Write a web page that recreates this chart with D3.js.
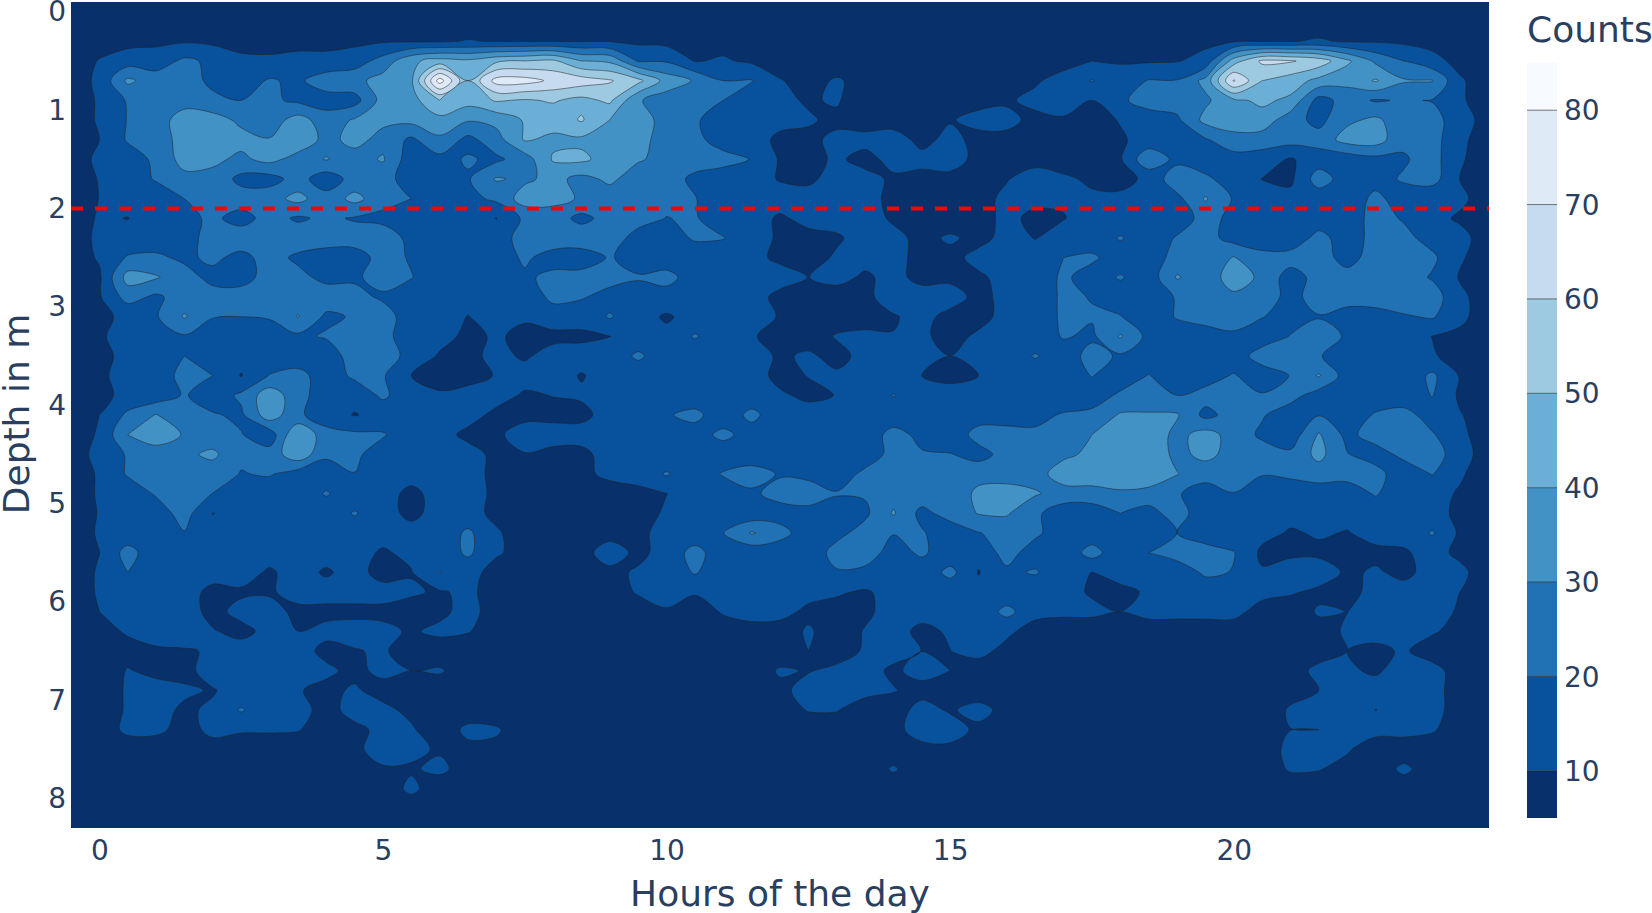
<!DOCTYPE html>
<html>
<head>
<meta charset="utf-8">
<script src="https://cdn.jsdelivr.net/npm/d3@7"></script>
<style>
  body { margin: 0; background: #fff; }
  text { font-family: "DejaVu Sans", sans-serif; fill: #2a3f5f; }
</style>
</head>
<body>
<div id="chart"></div>
<script>
const width = 1652;
const height = 913;
const plot = { left: 71, right: 1489, top: 2, bottom: 828 };

const xTicks = [0, 5, 10, 15, 20];
const yTicks = [0, 1, 2, 3, 4, 5, 6, 7, 8];
const levels = [10, 20, 30, 40, 50, 60, 70, 80];
const bandColours = ["#08306b", "#08519c", "#2171b5", "#4292c6", "#6baed6", "#9ecae1", "#c6dbef", "#deebf7", "#f7fbff"];
const colourbarTicks = [10, 20, 30, 40, 50, 60, 70, 80];
const markerDepth = 2;

// hours -0.5 to 24.5 every 0.5
const hours = [-0.5, 0, 0.5, 1, 1.5, 2, 2.5, 3, 3.5, 4, 4.5, 5, 5.5, 6, 6.5, 7, 7.5, 8, 8.5, 9, 9.5, 10, 10.5, 11, 11.5, 12, 12.5, 13, 13.5, 14, 14.5, 15, 15.5, 16, 16.5, 17, 17.5, 18, 18.5, 19, 19.5, 20, 20.5, 21, 21.5, 22, 22.5, 23, 23.5, 24, 24.5];
// depths -0.1 to 8.3 every 0.2
const depths = [-0.1, 0.1, 0.3, 0.5, 0.7, 0.9, 1.1, 1.3, 1.5, 1.7, 1.9, 2.1, 2.3, 2.5, 2.7, 2.9, 3.1, 3.3, 3.5, 3.7, 3.9, 4.1, 4.3, 4.5, 4.7, 4.9, 5.1, 5.3, 5.5, 5.7, 5.9, 6.1, 6.3, 6.5, 6.7, 6.9, 7.1, 7.3, 7.5, 7.7, 7.9, 8.1, 8.3];

// one row per depth, one value per hour
const counts = [
  [5,5,5,5,5,5,5,5,5,5, 5,5,5,5,5,5,5,5,5,5, 5,5,5,5,5,5,5,5,5,5, 5,5,5,5,5,5,5,5,5,5, 5,5,5,5,5,5,5,5,5,5,5],
  [5,5,5,5,5,5,5,5,5,5, 5,5,5,5,5,5,5,5,5,5, 5,5,5,5,5,5,5,5,5,5, 5,5,5,5,5,5,5,5,5,5, 5,5,5,5,5,5,5,5,5,5,5],
  [5,6,7,8,9,8,7,8,8,8, 8,9,9,9,10.5,9.5,9.5,9.5,9.5,9.5, 8,7,7,7,6,5,5,5,5,5, 5,5,5,5,5,6,7,7,7,7, 8,9,9.5,9.5,11,9,9,8,7,6,5],
  [5,10.5,15,15,22,18,12,11,12,12, 15,24,38,44,42,48,50,52,40,38, 19,19,9.5,11,8.5,6,5,5,5,5, 5,5,5,5,6,7,10,9,9,9.5, 13,45,62,61,56,42,28,20,13,7,5],
  [5,12,32,25,26,17,15,21,18,26, 27,34,38,85,50,74,74,68,65,61, 53,36,29,20,20.5,10.5,7,11,7,6, 5,5,5,6,9,13,20.5,15,20.5,20.5, 33,71,50,45,37,33,41,31,30.5,11,5],
  [5,11,21,25,25,23,20,22,18,15, 16,34,36,50,44,51,49,51,47,52, 31,25,21,20,14,11,9.5,10.5,7,6, 5,5,8,9,12,14,10,18,25,25, 28,38,42,38,16,24,19,21,19.5,11,6],
  [5,11,20.5,24,36,34,28,25,34,25, 31,32,33,37,31,33,41,44,51,40, 35,26,21,16,14,12,10.5,9,7,7, 7,9.5,12,12,8,9,7,10.5,14,18, 33,36,36,24,17,28,32,24,24,14,6],
  [5,10,21,22,36,30.5,33,30.5,37,27, 33,27,18,28,17,26,41,38,38,36, 34,25,23,15,13,8.5,9,11,12,13, 8,12,8,8,8,8,7,9,13,14, 19,26,25,24,24,34,35,22,24,12,5],
  [5,12,15,22,34,32,28,33,26,30.5, 26,31,14,17,21,18,25,41,42,36, 31,27,24,24,19.5,9,8,11,8,12, 12,13,8,7,7,7,7,9,28,17, 14,16,15,9,15,14,17,19,24,11,5],
  [5,10.5,14,21,27,27,17,16,24,14, 24,24,15,15,19,31,28,33,27,32, 25,24,18,14,13,9.5,9,12,12,9, 8,8,9,9.5,14,11,9,7,12,27, 22,15,9.8,8,25,15,17,21,24,9.5,5],
  [5,10.2,13,13,20,27,25,26,33,24, 33,24,20,15,17,22,35,33,29,25, 24,22,20.5,13,13,13,12,12,12,8.5, 7,6,7,12,12,10.5,11,12,13,17, 31,19,14,13,14,15,22,16,12,12,5],
  [5,11,9.8,13,17,22,16,24,18.5,22, 19,17,13,13,14,9.8,22,25,17,24, 23,19.8,21,14,13,9,12,13,13,9, 7,6,7,12,8,9.8,12,12,14,14, 24,17,13,13,13,14,24,19,13,8.5,5],
  [5,12,13,14,16,24,26,27,26,25, 25,26,17,12,13,14,25,27,27,24, 17,16,21,20.5,13,9,8,9,13,12, 8,11,8,12,9.8,12,13,21,13,21, 24,16,13,12,24,14,24,23,16,13,5],
  [5,11,21,22,18,22,17,24,18,15, 15,24,19,13,13,13,22,15,14,21, 15,13,15,13,12,8.5,7,11,12,12, 8,8,12,13,13,20,22,14,14,24, 25,30.5,24,25,26,15,26,27,22,11,5],
  [5,8.5,34,31,24,17,15,25,23,17, 18,25,20.5,13,13,13,18,23,24,24, 21,24,14,13,12,13,9.9,12,9,12, 8,8.5,9,12,13,22,15,21,14,31, 24,35,28,15,24,25,25,25,19,9,5],
  [5,9,24,18,25,24,26,26,26,26, 24,18,13,13,12,12,12,23,21,16, 15,15,13,13,13,8,7,7,8.5,13, 13,13,8,12,13,22,19.5,14,13,21, 26,28,25,17,24,25,26,26,25,12,5],
  [5,8,12,19,31,20.5,20,20.5,30.5,18, 21,26,13,13,9.8,13,11,14,13,21, 13,9,13,13,13,9.5,7,7,8,9.5, 12,8,8,12,13,22,21,20.5,12,21, 25,25,20.5,15,19.5,15,15,19,21,12,5],
  [5,9,13,14,19,14,14,17,18,21, 24,24,13,13,8,11,8,8,8.5,9.9, 13,12,21,13,10.5,8,7,10.5,11,10.2, 11,8,11,12,13,21,18,31,17,13, 14,18,13,20.5,24,19,13,13,9.9,8,5],
  [5,8,12,13,20,14,13,13,13,14, 25,26,16,9,8,12,9,13,13,13, 22,13,13,13,13,9,11,8,12,12, 12,10,13,13,21,14,24,18.5,13,13, 14,13,26,24,21,13,13,13,10.5,8,5],
  [5,9,12,13,24,20,9.5,20.5,24,14, 22,21,10,7,7,10.5,13,13,9.5,13, 13,13,13,13,13,8,10.2,11,13,13, 10,8,10,13,13,13,20.5,13,20.5,13, 15,21,13,20.5,31,15,13,13,22,9,5],
  [5,7,13,14,21,14,22,36,24,14, 13,22,13,11,13,13,9,10.2,11,13, 13,13,13,13,13,11,8.5,10.2,13,20.5, 13,13,13,13,13,13,14,22,24,20, 24,25,21,24,15,13,14,13,20.5,8,5],
  [5,10,22,30.5,22,21,18,36,22,14, 9.5,13,13,13,13,8,7,8,8,13, 13,19,23,13,23,13,13,13,13,13, 13,14,15,15,17,21,23,31,31,31, 17,24,21,14,19.5,14,21,24,15,10.5,5],
  [5,11,30,37,29,24,20.5,14,40,24, 22,21,13,13,8,8,15,13,13,13, 13,13,15,23,15,13,13,13,13,24, 17,13,24,24,22,25,30,36,37,27, 34,26,18,14,31,17,25,25,21,12,5],
  [5,13,21,24,28,32,22,24,37,22, 22,15,13,13,13,8,9.5,8,8,13, 13,13,13,13,13,13,13,13,13,24, 21,20.5,16,24,28,28,32,39,38,27, 33,26,25,22,33,20.5,15,23,25,14,5],
  [5,11,21,24,24,25,19.5,21,15,14, 19.8,13,13,13,13,8,8,7,9,11, 13,21,13,21,25,19,17,13,23,25, 26,26,27,28,26,35,36,38,38,30.5, 24,23,20.5,22,25,24,24,13,20.5,11,5],
  [5,11,14,21,25,19.8,13,13,13,21, 13,13,8,13,13,8.5,7,7,7,8, 8,9.9,13,13,18,24,26,21,21,26, 26,24,32,32,31,26,26,28,26,21, 15,19.8,15,14,14,14,21,13,13,9,5],
  [5,10.5,13,15,24,9.8,13,13,13,13, 21,13,8,13,13,8,6,6,6,8, 7,11,13,13,13,15,16,13,18,31, 17,24,30.5,31,22,14,14,20,16,25, 13,13,13,13,13,13,13,13,13,8,5],
  [5,11,13,13,19.5,13,13,13,13,13, 13,13,13,13,22,11,6,6,6,7, 8,13,13,19.8,31,24,14,17,24,20.5, 21,14,19.5,24,22,14,14,13,13,20, 15,13,13,9,11,9.5,13,13,21,8,5],
  [5,9.9,24,13,13,13,13,13,13,13, 13,9,12,13,22,11,7,6,7,14, 8,13,24,13,13,13,13,24,26,15, 22,13,13,24,15,13,24,13,20,25, 24,20.5,8,8,8,7,8,9,13,8,5],
  [5,11,20,13,13,13,13,9,13,9, 13,7,9.5,20.5,13,7,6,6,7,8, 11,13,21,13,13,13,13,19,17,13, 13,23,9.5,18,21,13,9.9,13,13,13, 22,19.5,11,15,15,8.5,11,8,13,12,5],
  [5,11,13,13,13,8,9,9,13,13, 13,13,11,9,12,6,6,6,6,5, 11,14,11,13,13,13,13,11,9,13, 13,13,13,13,13,13,9,8,11,13, 13,13,13,11,8,7,13,13,13,9.9,5],
  [5,10,13,13,13,8,12,13,8,8, 8,8,7,8,13,6,6,5,5,5, 5,9,5,11,13,13,8,7,8.5,13, 13,13,13,23,13,12,12,10,13,13, 13,13,6,5,11,9.9,13,13,13,9,5],
  [5,7,11,13,13,10.5,8,12,10,12, 13,12,9,12,10.5,6,5,5,5,5, 5,5,5,5,7,6,11,6,10.5,13, 8,11,13,12,6,5,5,5,5,5, 5,5,5,5,7,11,13,13,11,7,5],
  [5,5,7,9,9.5,10.5,13,13,13,8, 9.5,11,6,5,5,5,5,5,5,5, 5,5,5,5,5,5,10,6,11,13, 9.9,9.9,13,7,5,5,5,5,5,5, 5,5,5,5,5,10,8,11,6,5,5],
  [5,5,10.5,8,8,13,13,13,13,11.5, 8,12,10,11,5,5,5,5,5,5, 5,5,5,5,5,11,9.5,12,13,8.5, 13,10,5,5,5,5,5,5,5,5, 5,5,5,5,13,11,9,13,13,6,5],
  [5,5,11,13,11,9.5,13,13,10.5,8, 11,7,5,5,5,5,5,5,5,5, 5,5,5,5,5,8,13,13,13,10.5, 7,5,5,5,5,5,5,5,5,5, 5,5,5,7,10,10,13,13,13,6,5],
  [5,5,11,12,9,11,21,13,13,7, 13,12,8,5,5,5,5,5,5,5, 5,5,5,5,5,6,10.5,10.5,5,6, 13,9,13,7,5,5,5,5,5,5, 5,5,5,11,13,13,9.9,12,13,6,5],
  [5,5,12,12,7,12,11,11,10.5,6, 8,12,11,5,12,11,5,5,5,5, 5,5,5,5,5,5,5,5,5,8, 13,14,8,5,5,5,5,5,5,5, 5,5,5,9.9,10,10,13,13,11,5,5],
  [5,5,5,5,9.5,7,5,5,5,5, 9,12,12,9,8,8,5,5,5,5, 5,5,5,5,5,5,5,5,5,5, 8,8,5,5,5,5,5,5,5,5, 5,5,6,12,14,11,5,5,5,5,5],
  [5,5,5,5,5,5,5,5,5,5, 5,9.5,9,12,6,5,5,5,5,5, 5,5,5,5,5,5,5,5,5,11, 5,5,5,5,5,5,5,5,5,5, 5,5,5,11,10.5,7,5,12,5,5,5],
  [5,5,5,5,5,5,5,5,5,5, 5,5,12,5,5,5,5,5,5,5, 5,5,5,5,5,5,5,5,5,5, 5,5,5,5,5,5,5,5,5,5, 5,5,5,5,5,5,5,5,5,5,5],
  [5,5,5,5,5,5,5,5,5,5, 5,5,5,5,5,5,5,5,5,5, 5,5,5,5,5,5,5,5,5,5, 5,5,5,5,5,5,5,5,5,5, 5,5,5,5,5,5,5,5,5,5,5],
  [5,5,5,5,5,5,5,5,5,5, 5,5,5,5,5,5,5,5,5,5, 5,5,5,5,5,5,5,5,5,5, 5,5,5,5,5,5,5,5,5,5, 5,5,5,5,5,5,5,5,5,5,5],
];

const svg = d3
  .select("#chart")
  .append("svg")
  .attr("width", width)
  .attr("height", height)
  .style("display", "block");

const x = d3.scaleLinear().domain([-0.5, 24.5]).range([plot.left, plot.right]);
const y = d3.scaleLinear().domain([-0.1, 8.3]).range([plot.top, plot.bottom]);
const colourY = d3.scaleLinear().domain([5, 85]).range([818, 63]);

// d3.contours works in grid cells, a grid point i sits at i + 0.5
const cellToHour = d3.scaleLinear().domain([0.5, hours.length - 0.5]).range([hours[0], hours[hours.length - 1]]);
const cellToDepth = d3.scaleLinear().domain([0.5, depths.length - 0.5]).range([depths[0], depths[depths.length - 1]]);

const contours = d3
  .contours()
  .size([hours.length, depths.length])
  .smooth(true)
  .thresholds(levels)(counts.flat());

const ringPath = d3
  .line()
  .x((d) => x(cellToHour(d[0])))
  .y((d) => y(cellToDepth(d[1])))
  .curve(d3.curveCatmullRomClosed.alpha(0.5));

svg
  .append("rect")
  .attr("x", plot.left)
  .attr("y", plot.top)
  .attr("width", plot.right - plot.left)
  .attr("height", plot.bottom - plot.top)
  .attr("fill", bandColours[0]);

svg
  .append("g")
  .selectAll("path")
  .data(contours)
  .enter()
  .append("path")
  .attr("d", (d) =>
    d.coordinates
      .flatMap((polygon) => polygon.map((ring) => ringPath(ring.slice(0, -1))))
      .join("")
  )
  .attr("fill", (d, i) => bandColours[i + 1])
  .attr("fill-rule", "evenodd")
  .attr("stroke", "#222")
  .attr("stroke-opacity", 0.75)
  .attr("stroke-width", 0.7);

svg
  .append("line")
  .attr("x1", plot.left)
  .attr("x2", plot.right)
  .attr("y1", y(markerDepth))
  .attr("y2", y(markerDepth))
  .attr("stroke", "red")
  .attr("stroke-width", 4)
  .attr("stroke-dasharray", "12,12");

const xAxis = d3.axisBottom(x).tickValues(xTicks).tickSize(0).tickPadding(12);
const yAxis = d3.axisLeft(y).tickValues(yTicks).tickSize(0).tickPadding(5);

svg
  .append("g")
  .attr("transform", "translate(0," + plot.bottom + ")")
  .call(xAxis)
  .call((g) => g.select(".domain").remove())
  .selectAll("text")
  .style("font", '28px "DejaVu Sans"')
  .style("fill", "#2a3f5f");

svg
  .append("g")
  .attr("transform", "translate(" + plot.left + ",0)")
  .call(yAxis)
  .call((g) => g.select(".domain").remove())
  .selectAll("text")
  .style("font", '28px "DejaVu Sans"')
  .style("fill", "#2a3f5f");

svg
  .append("text")
  .attr("x", 780)
  .attr("y", 906)
  .attr("text-anchor", "middle")
  .style("font-size", "36px")
  .text("Hours of the day");

svg
  .append("text")
  .attr("transform", "translate(29,414) rotate(-90)")
  .attr("text-anchor", "middle")
  .style("font-size", "36px")
  .text("Depth in m");

// colour bar
const bandEdges = [5, ...levels, 85];
svg
  .append("g")
  .selectAll("rect")
  .data(bandColours)
  .enter()
  .append("rect")
  .attr("x", 1527)
  .attr("width", 30)
  .attr("y", (d, i) => colourY(bandEdges[i + 1]))
  .attr("height", (d, i) => colourY(bandEdges[i]) - colourY(bandEdges[i + 1]))
  .attr("fill", (d) => d);

svg
  .append("g")
  .selectAll("line")
  .data(levels)
  .enter()
  .append("line")
  .attr("x1", 1527)
  .attr("x2", 1557)
  .attr("y1", (d) => colourY(d))
  .attr("y2", (d) => colourY(d))
  .attr("stroke", "#222")
  .attr("stroke-opacity", 0.6)
  .attr("stroke-width", 1);

svg
  .append("g")
  .selectAll("text")
  .data(colourbarTicks)
  .enter()
  .append("text")
  .attr("x", 1564)
  .attr("y", (d) => colourY(d))
  .attr("dy", "0.36em")
  .style("font-size", "28px")
  .text((d) => d);

svg
  .append("text")
  .attr("x", 1527)
  .attr("y", 42)
  .style("font-size", "36px")
  .text("Counts");
</script>
</body>
</html>
